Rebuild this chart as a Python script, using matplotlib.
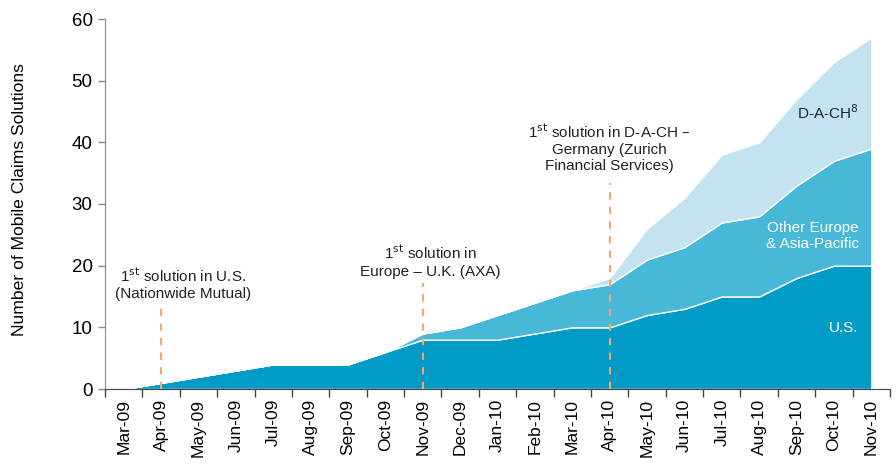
import matplotlib
matplotlib.use("Agg")
import matplotlib.pyplot as plt
import numpy as np

months = ["Mar-09", "Apr-09", "May-09", "Jun-09", "Jul-09", "Aug-09", "Sep-09",
          "Oct-09", "Nov-09", "Dec-09", "Jan-10", "Feb-10", "Mar-10", "Apr-10",
          "May-10", "Jun-10", "Jul-10", "Aug-10", "Sep-10", "Oct-10", "Nov-10"]
us = [0, 1, 2, 3, 4, 4, 4, 6, 8, 8, 8, 9, 10, 10, 12, 13, 15, 15, 18, 20, 20]
other_europe = [0, 0, 0, 0, 0, 0, 0, 0, 1, 2, 4, 5, 6, 7, 9, 10, 12, 13, 15, 17, 19]
dach = [0, 0, 0, 0, 0, 0, 0, 0, 0, 0, 0, 0, 0, 1, 5, 8, 11, 12, 14, 16, 18]
yticks = [0, 10, 20, 30, 40, 50, 60]

# (month, text, text x, text bottom, dashed-line top)
events = [
    ("Apr-09", "1$^{\\mathrm{st}}$ solution in U.S.\n(Nationwide Mutual)", 1.6, 14.2, 13.6),
    ("Nov-09", "1$^{\\mathrm{st}}$ solution in\nEurope \u2013 U.K. (AXA)", 8.2, 17.9, 17.2),
    ("Apr-10", "1$^{\\mathrm{st}}$ solution in D-A-CH \u2013\nGermany (Zurich\nFinancial Services)", 13.0, 35.0, 33.4),
]

plt.rcParams['font.family'] = ['Liberation Sans', 'DejaVu Sans']

fig = plt.figure(figsize=(8.96, 4.67), dpi=100)
ax = fig.add_axes([105/896, 1-389/467, (890-105)/896, (389-19)/467])

x = np.arange(len(months))
c_us = "#009bc6"
c_oe = "#48b8d9"
c_da = "#c2e3ef"
ax.stackplot(x, us, other_europe, dach, colors=[c_us, c_oe, c_da],
             edgecolor="white", linewidth=1.0)

ax.set_xlim(-0.5, len(months) - 0.5)
ax.set_ylim(0, 60)
ax.set_yticks(yticks)
ax.tick_params(axis="y", labelsize=13.5, length=5, width=1, color="#888888", pad=4)
ax.set_xticks(x)
ax.set_xticklabels(months, rotation=90, fontsize=12.5)
ax.tick_params(axis="x", length=0, pad=7)
ax.set_xticks(np.arange(-0.5, len(months)), minor=True)
ax.tick_params(axis="x", which="minor", length=6, width=1, color="#444444")

for s in ["top", "right"]:
    ax.spines[s].set_visible(False)
ax.spines["left"].set_color("#888888")
ax.spines["bottom"].set_color("#444444")

ax.set_ylabel("Number of Mobile Claims Solutions", fontsize=12.6)
ax.yaxis.set_label_coords(-0.0994, 0.511)

for m, txt, tx, ty, ltop in events:
    i = months.index(m)
    ax.plot([i, i], [0, ltop], linestyle=(0, (3.5, 3.5)), color="#f5a86a",
            linewidth=1.5, zorder=5)
    ax.text(tx, ty, txt, ha="center", va="bottom", fontsize=11,
            linespacing=1.2, color="#222222")

lx = 19.66
ax.text(lx, 44.8, "D-A-CH$^{8}$", ha="right", va="center", fontsize=11, color="#222222")
ax.text(lx, 24.8, "Other Europe\n& Asia-Pacific", ha="right", va="center",
        fontsize=11, color="white", linespacing=1.2)
ax.text(lx, 9.9, "U.S.", ha="right", va="center", fontsize=11, color="white")

fig.savefig("out.png", dpi=100)
